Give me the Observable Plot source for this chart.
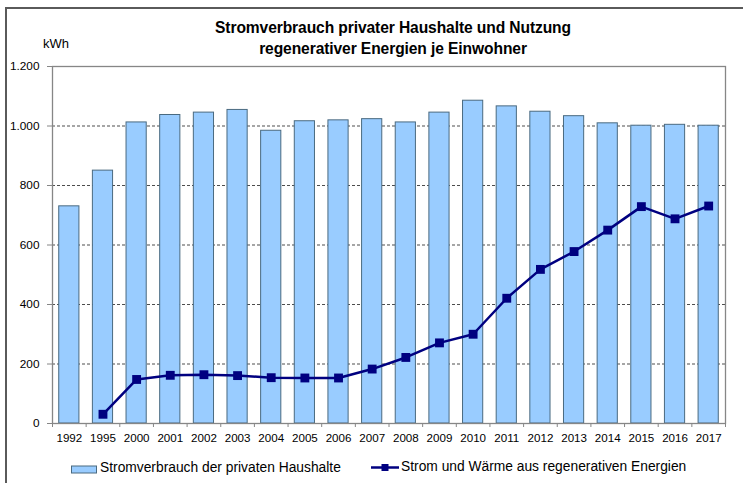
<!DOCTYPE html>
<html>
<head>
<meta charset="utf-8">
<script src="https://cdn.jsdelivr.net/npm/d3@7"></script>
<script src="https://cdn.jsdelivr.net/npm/@observablehq/plot@0.6"></script>
<style>
  html, body { margin: 0; padding: 0; background: #fff; }
  #wrap { position: relative; width: 743px; height: 483px; overflow: hidden; font-family: "Liberation Sans", Arial, sans-serif; }
  #frame { position: absolute; left: 5px; top: 7px; width: 800px; height: 600px; border-top: 2px solid #5a5a5a; border-left: 2px solid #5a5a5a; box-sizing: border-box; }
  #title { position: absolute; left: 193px; width: 400px; top: 17px; text-align: center; font-weight: bold; font-size: 15.6px; line-height: 21px; color: #000; letter-spacing: -0.1px; }
  #unit { position: absolute; left: 43px; top: 36px; font-size: 13px; color: #000; }
  #chart { position: absolute; left: 0; top: 56px; }
  .leg { position: absolute; font-size: 13.8px; color: #000; white-space: nowrap; }
</style>
</head>
<body>
<div id="wrap">
  <div id="frame"></div>
  <div id="title">Stromverbrauch privater Haushalte und Nutzung<br>regenerativer Energien je Einwohner</div>
  <div id="unit">kWh</div>
  <div id="chart"></div>
  <svg id="legsvg" width="743" height="30" style="position:absolute;left:0;top:455px">
    <rect x="71.5" y="11" width="25" height="7" fill="#99CCFF" stroke="#4a6a80" stroke-width="1"></rect>
    <line x1="371" x2="399" y1="12.5" y2="12.5" stroke="#000080" stroke-width="2.5"></line>
    <rect x="381.5" y="9" width="7" height="7" fill="#000080"></rect>
  </svg>
  <div class="leg" style="left:100px; top:460px;">Stromverbrauch der privaten Haushalte</div>
  <div class="leg" style="left:401px; top:459px;">Strom und Wärme aus regenerativen Energien</div>
</div>
<script>
const years = ["1992","1995","2000","2001","2002","2003","2004","2005","2006","2007","2008","2009","2010","2011","2012","2013","2014","2015","2016","2017"];
const householdPower = [730, 850, 1012, 1037, 1045, 1054, 984, 1016, 1019, 1023, 1012, 1045, 1085, 1066, 1048, 1033, 1009, 1001, 1004, 1001];
const renewables = [null, 31, 148, 162, 164, 161, 154, 153, 153, 183, 222, 271, 300, 421, 518, 578, 650, 729, 688, 731];
const yTicks = [0, 200, 400, 600, 800, 1000, 1200];
const gridTicks = [200, 400, 600, 800, 1000];

const bars = years.map((y, i) => ({year: y, i, value: householdPower[i]}));
const line = years.map((y, i) => ({year: y, i, value: renewables[i]})).filter(d => d.value != null);

const de = d3.formatLocale({decimal: ",", thousands: ".", grouping: [3], currency: ["", " €"]});
const fmt = de.format(",d");

const axisColor = "#868686";

const chart = Plot.plot({
  width: 743,
  height: 397,
  marginTop: 10,
  marginBottom: 30,
  marginLeft: 52,
  marginRight: 18,
  style: {fontFamily: "'Liberation Sans', Arial, sans-serif", background: "transparent", overflow: "visible"},
  x: {type: "linear", domain: [0, years.length]},
  y: {domain: [0, 1200]},
  marks: [
    Plot.gridY(gridTicks, {stroke: "#3a3a3a", strokeOpacity: 0.9, strokeDasharray: "3,2", strokeWidth: 1}),
    Plot.rectY(bars, {x1: d => d.i + 0.2, x2: d => d.i + 0.8, y: "value", fill: "#99CCFF", stroke: "#4a6a80", strokeWidth: 1}),
    Plot.frame({stroke: axisColor, strokeWidth: 1.3}),
    Plot.line(line, {x: d => d.i + 0.5, y: "value", stroke: "#000080", strokeWidth: 2.5}),
    Plot.dot(line, {x: d => d.i + 0.5, y: "value", symbol: "square", r: 5, fill: "#000080", stroke: "none"}),
    Plot.axisY(yTicks, {tickSize: 5, tickPadding: 8, tickFormat: fmt, stroke: axisColor, fontSize: 11.8, fill: "#000", label: null}),
    Plot.axisX(d3.range(years.length + 1), {tickSize: 4, tickFormat: () => "", stroke: axisColor, label: null}),
    Plot.axisX(d3.range(years.length).map(i => i + 0.5), {tickSize: 0, tickPadding: 10, tickFormat: v => years[Math.floor(v)], fontSize: 11.6, fill: "#000", label: null})
  ]
});
document.getElementById("chart").appendChild(chart);
</script>
</body>
</html>
